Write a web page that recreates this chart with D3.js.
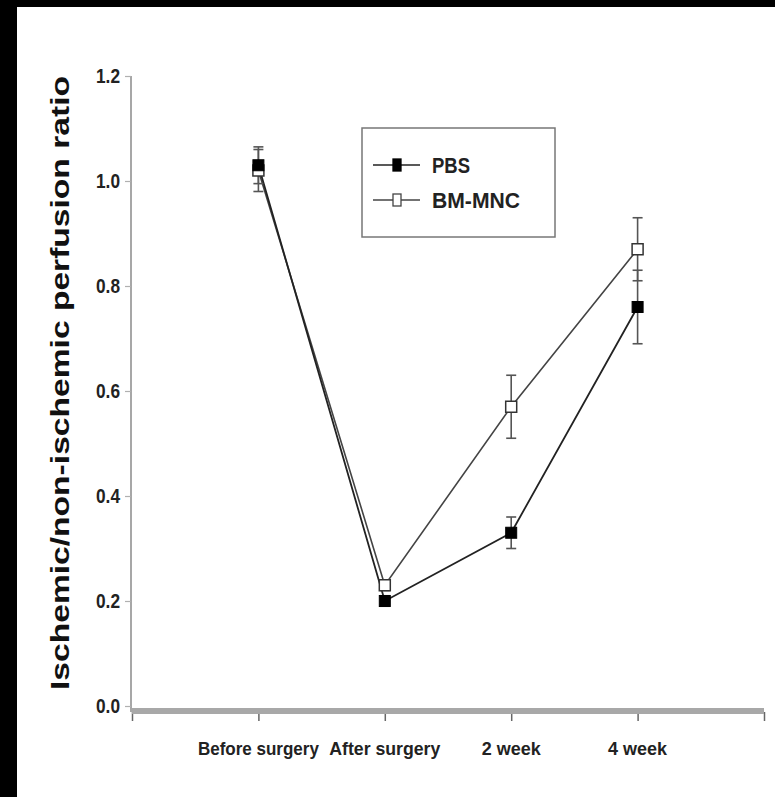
<!DOCTYPE html>
<html>
<head>
<meta charset="utf-8">
<script src="https://cdn.jsdelivr.net/npm/d3@7"></script>
<style>
  html, body { margin: 0; padding: 0; background: #fff; }
  svg { display: block; }
</style>
</head>
<body>
<svg id="chart" width="775" height="797"></svg>
<script>
const categories = ["Before surgery", "After surgery", "2 week", "4 week"];
const pbsValues = [1.03, 0.20, 0.33, 0.76];
const pbsErrors = [0.035, 0.01, 0.03, 0.07];
const bmValues = [1.02, 0.23, 0.57, 0.87];
const bmErrors = [0.04, 0.01, 0.06, 0.06];
const yTicks = [0.0, 0.2, 0.4, 0.6, 0.8, 1.0, 1.2];
const seriesNames = ["PBS", "BM-MNC"];

const svg = d3.select("#chart");

// black frame strips (top, left)
svg.append("rect").attr("x", 0).attr("y", 0).attr("width", 775).attr("height", 7).attr("fill", "#000");
svg.append("rect").attr("x", 0).attr("y", 0).attr("width", 17).attr("height", 797).attr("fill", "#000");

const x = d3.scaleLinear().domain([0, categories.length + 1]).range([132, 764]);
const y = d3.scaleLinear().domain([0, 1.2]).range([706, 76]);

// y axis
const yAxis = d3.axisLeft(y).tickValues(yTicks).tickFormat(d3.format(".1f")).tickSize(6).tickPadding(5);
const gy = svg.append("g").attr("transform", "translate(131,0)").call(yAxis);
gy.select(".domain").attr("d", `M0,${y(1.2)}V712`).attr("stroke", "#8a8a8a").attr("stroke-width", 1.5);
gy.selectAll(".tick line").attr("stroke", "#b0b0b0").attr("stroke-width", 1.2);
gy.selectAll(".tick text")
  .attr("font-family", "'Liberation Sans Narrow', 'Arial Narrow', sans-serif")
  .attr("font-size", 20).attr("font-weight", "bold").attr("fill", "#222")
  .attr("textLength", 24).attr("lengthAdjust", "spacingAndGlyphs");

// x axis
const xAxis = d3.axisBottom(x).tickValues(d3.range(0, categories.length + 2)).tickFormat("").tickSize(9);
const gx = svg.append("g").attr("transform", "translate(0,712)").call(xAxis);
gx.select(".domain").remove();
gx.append("line").attr("x1", x(0)).attr("x2", x(categories.length + 1))
  .attr("y1", -1).attr("y2", -1).attr("stroke", "#a8a8a8").attr("stroke-width", 6);
gx.selectAll(".tick line").attr("stroke", "#666").attr("stroke-width", 1.5);

// x category labels
const labelWidths = [121, 111, 59, 59];
svg.append("g").selectAll("text").data(categories).join("text")
  .attr("x", (d, i) => x(i + 1))
  .attr("y", 755)
  .attr("text-anchor", "middle")
  .attr("font-family", "'Liberation Sans Narrow', 'Arial Narrow', sans-serif")
  .attr("font-size", 19).attr("font-weight", "bold").attr("fill", "#222")
  .attr("textLength", (d, i) => labelWidths[i])
  .attr("lengthAdjust", "spacingAndGlyphs")
  .text(d => d);

// y title
svg.append("text")
  .attr("transform", `translate(69,${(76 + 690) / 2}) rotate(-90)`)
  .attr("text-anchor", "middle")
  .attr("font-family", "'Liberation Sans', Arial, sans-serif")
  .attr("font-size", 25).attr("font-weight", "bold").attr("fill", "#111")
  .attr("textLength", 614).attr("lengthAdjust", "spacingAndGlyphs")
  .text("Ischemic/non-ischemic perfusion ratio");

const line = d3.line().x((d, i) => x(i + 1)).y(d => y(d));

// lines
svg.append("path").datum(bmValues).attr("d", line).attr("fill", "none")
  .attr("stroke", "#444").attr("stroke-width", 1.6);
svg.append("path").datum(pbsValues).attr("d", line).attr("fill", "none")
  .attr("stroke", "#222").attr("stroke-width", 1.8);

// error bars
function errorBars(vals, errs) {
  const g = svg.append("g").attr("stroke", "#555").attr("stroke-width", 1.6);
  vals.forEach((v, i) => {
    const cx = x(i + 1);
    g.append("line").attr("x1", cx).attr("x2", cx).attr("y1", y(v - errs[i])).attr("y2", y(v + errs[i]));
    [v - errs[i], v + errs[i]].forEach(e => {
      g.append("line").attr("x1", cx - 5).attr("x2", cx + 5).attr("y1", y(e)).attr("y2", y(e));
    });
  });
}
errorBars(bmValues, bmErrors);
errorBars(pbsValues, pbsErrors);

const ms = 11;
// markers
svg.append("g").selectAll("rect").data(bmValues).join("rect")
  .attr("x", (d, i) => x(i + 1) - ms / 2).attr("y", d => y(d) - ms / 2)
  .attr("width", ms).attr("height", ms)
  .attr("fill", "#fff").attr("stroke", "#333").attr("stroke-width", 1.5);
svg.append("g").selectAll("rect").data(pbsValues).join("rect")
  .attr("x", (d, i) => x(i + 1) - ms / 2).attr("y", d => y(d) - ms / 2)
  .attr("width", ms).attr("height", ms)
  .attr("fill", "#000").attr("stroke", "#000").attr("stroke-width", 1);

// legend
const lg = svg.append("g");
lg.append("rect").attr("x", 362).attr("y", 128).attr("width", 193).attr("height", 109)
  .attr("fill", "#fff").attr("stroke", "#777").attr("stroke-width", 1.5);
const legendY = [165, 200];
const legendWidths = [38, 88];
seriesNames.forEach((name, i) => {
  const ly = legendY[i];
  lg.append("line").attr("x1", 373).attr("x2", 420).attr("y1", ly).attr("y2", ly)
    .attr("stroke", i === 0 ? "#222" : "#444").attr("stroke-width", 1.6);
  lg.append("rect").attr("x", 397 - 4).attr("y", ly - 6).attr("width", 8).attr("height", 12)
    .attr("fill", i === 0 ? "#000" : "#fff").attr("stroke", i === 0 ? "#000" : "#444").attr("stroke-width", 1.3);
  lg.append("text").attr("x", 432).attr("y", ly + 8)
    .attr("font-family", "'Liberation Sans Narrow', 'Arial Narrow', sans-serif")
    .attr("font-size", 22).attr("font-weight", "bold").attr("fill", "#222")
    .attr("textLength", legendWidths[i]).attr("lengthAdjust", "spacingAndGlyphs")
    .text(name);
});
</script>
</body>
</html>
